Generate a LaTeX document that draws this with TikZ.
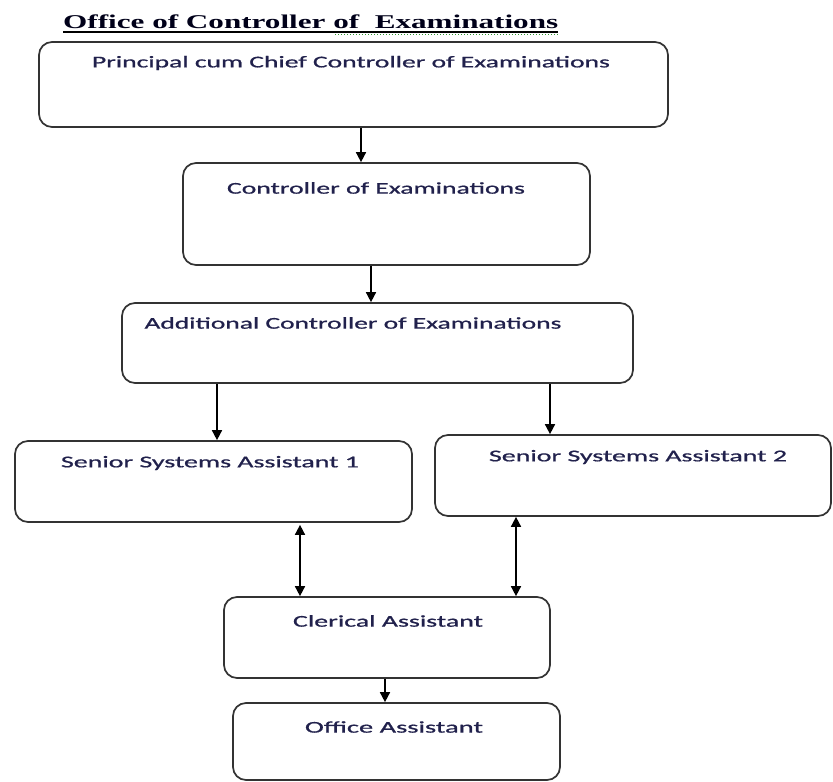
\documentclass[tikz,border=0pt]{standalone}
\usepackage{fontspec}
\setmainfont{Carlito}
\newfontfamily\boxfont[FakeBold=0.7]{Carlito}
\newfontfamily\titlefont{Liberation Serif}
\usetikzlibrary{arrows.meta,fit,calc}
\definecolor{txt}{rgb}{0.13,0.13,0.3}
\definecolor{edge}{rgb}{0.2,0.2,0.2}
\definecolor{spell}{rgb}{0.2,0.6,0.2}
\newcommand\sx[2]{\resizebox{#1pt}{\height}{#2}}
\begin{document}
\begin{tikzpicture}[x=1pt,y=-1pt,
  box/.style={draw=edge,line width=1.7pt,rounded corners=13pt,inner sep=0pt,fill=none},
  lbl/.style={inner sep=0pt,text=txt,font=\boxfont\fontsize{16.5}{19}\selectfont},
  arr/.style={draw=black,line width=1.6pt,-{Triangle[length=10pt,width=10pt]}},
  darr/.style={draw=black,line width=1.6pt,{Triangle[length=10pt,width=10pt]}-{Triangle[length=10pt,width=10pt]}}]
\useasboundingbox (0,0) rectangle (833,782);
% title
\node[anchor=base west,inner sep=0pt,text=black!90!blue,font=\titlefont\bfseries\fontsize{19.5}{23}\selectfont] (title) at (63,28)
  {\sx{495}{Office of Controller of\ \ Examinations}};
\draw[line width=1.3pt] ([yshift=-4pt]title.base west) -- ([yshift=-4pt]title.base east);
\coordinate (sp) at ($(title.base west)!0.55!(title.base east)$);
\draw[spell,line width=1pt,dotted] ([yshift=-6pt]sp) -- ([yshift=-6pt]title.base east);
% boxes
\node[box,fit={(39,42) (668,127)}] (b1) {};
\node[box,fit={(183,163) (590,265)}] (b2) {};
\node[box,fit={(122,303) (633,383)}] (b3) {};
\node[box,fit={(15,441) (412,522)}] (b4) {};
\node[box,fit={(435,435) (831,516)}] (b5) {};
\node[box,fit={(224,597) (550,678)}] (b6) {};
\node[box,fit={(233,703) (560,780)}] (b7) {};
% labels
\node[lbl] (t1) at (351,63) {\sx{518}{Principal cum Chief Controller of Examinations}};
\node[lbl] (t2) at (376,188) {\sx{298}{Controller of Examinations}};
\node[lbl] (t3) at (353,323) {\sx{417}{Additional Controller of Examinations}};
\node[lbl] (t4) at (210,463) {\sx{298}{Senior Systems Assistant 1}};
\node[lbl] (t5) at (638,457) {\sx{298}{Senior Systems Assistant 2}};
\node[lbl] (t6) at (388,621) {\sx{190}{Clerical Assistant}};
\node[lbl] (t7) at (394,727) {\sx{178}{Office Assistant}};
% arrow columns
\coordinate (c12) at (361,0);
\coordinate (c23) at (371,0);
\coordinate (c34) at (217,0);
\coordinate (c35) at (550,0);
\coordinate (c46) at (300,0);
\coordinate (c56) at (516,0);
\coordinate (c67) at (385,0);
\draw[arr] (b1.south -| c12) -- (b2.north -| c12);
\draw[arr] (b2.south -| c23) -- (b3.north -| c23);
\draw[arr] (b3.south -| c34) -- (b4.north -| c34);
\draw[arr] (b3.south -| c35) -- (b5.north -| c35);
\draw[darr] ([yshift=-2pt]b4.south -| c46) -- (b6.north -| c46);
\draw[darr] (b5.south -| c56) -- (b6.north -| c56);
\draw[arr] (b6.south -| c67) -- (b7.north -| c67);
\end{tikzpicture}
\end{document}
